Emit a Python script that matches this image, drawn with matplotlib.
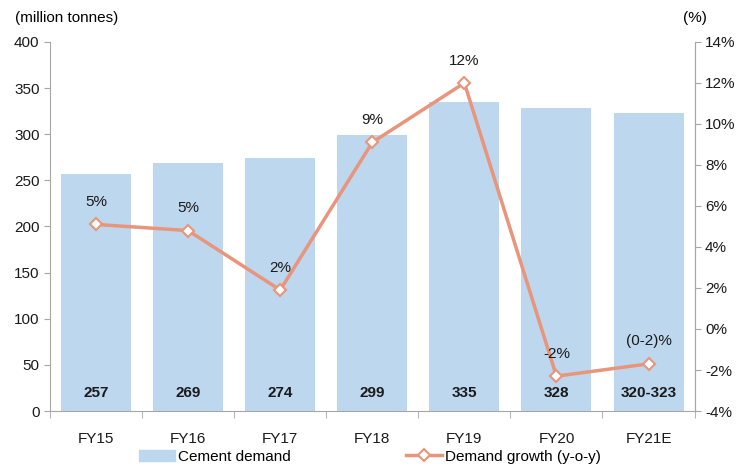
import numpy as np
import matplotlib.pyplot as plt
from matplotlib.lines import Line2D
from matplotlib.patches import Patch

plt.rcParams['font.family'] = ['Liberation Sans', 'DejaVu Sans']

years = ["FY15", "FY16", "FY17", "FY18", "FY19", "FY20", "FY21E"]
demand = [257, 269, 274, 299, 335, 328, 323]
demand_labels = ["257", "269", "274", "299", "335", "328", "320-323"]
growth = [5.1, 4.8, 1.9, 9.1, 12.0, -2.3, -1.7]
growth_labels = ["5%", "5%", "2%", "9%", "12%", "-2%", "(0-2)%"]

bar_color = "#BDD7EE"
line_color = "#E8957B"
axis_color = "#A6A6A6"
fs = 11

fig = plt.figure(figsize=(7.4, 4.66), dpi=100)
ax = fig.add_axes([0.0676, 0.118, 0.871, 0.792])
x = np.arange(len(years))

ax.bar(x, demand, width=0.76, color=bar_color, zorder=1)
for xi, lab in zip(x, demand_labels):
    ax.text(xi, 20, lab, ha="center", va="center", fontsize=fs,
            fontweight="bold", color="#1a1a1a")

ax.set_ylim(0, 400)
ax.set_yticks(range(0, 401, 50))
ax.set_xlim(-0.5, len(years) - 0.5)
ax.set_xticks(x)
ax.set_xticklabels(years)
ax.set_xticks(np.arange(-0.5, len(years), 1), minor=True)
ax.tick_params(axis="x", which="major", length=0, pad=15)
ax.tick_params(axis="x", which="minor", length=5, color=axis_color)
ax.tick_params(axis="y", length=4, color=axis_color)
ax.tick_params(labelsize=fs, labelcolor="#1a1a1a")
ax.spines["top"].set_visible(False)
for s in ["left", "bottom", "right"]:
    ax.spines[s].set_color(axis_color)

ax2 = ax.twinx()
ax2.plot(x, growth, color=line_color, lw=2.5, marker="D", ms=6,
         mfc="white", mec=line_color, mew=1.5, zorder=3)
for xi, g, lab in zip(x, growth, growth_labels):
    ax2.text(xi, g + 0.75, lab, ha="center", va="bottom", fontsize=fs,
             color="#1a1a1a")
ax2.set_ylim(-4, 14)
ax2.set_yticks(range(-4, 15, 2))
ax2.set_yticklabels([f"{v}%" for v in range(-4, 15, 2)])
ax2.tick_params(axis="y", length=4, color=axis_color, labelsize=fs,
                labelcolor="#1a1a1a")
for s in ["top", "left", "bottom"]:
    ax2.spines[s].set_visible(False)
ax2.spines["right"].set_color(axis_color)

fig.text(0.02, 0.962, "(million tonnes)", fontsize=fs, va="center")
fig.text(0.923, 0.962, "(%)", fontsize=fs, va="center")

handles = [Patch(color=bar_color),
           Line2D([], [], color=line_color, lw=2.5, marker="D", ms=6,
                  mfc="white", mec=line_color, mew=1.5)]
fig.legend(handles, ["Cement demand", "Demand growth (y-o-y)"],
           loc="center", bbox_to_anchor=(0.5, 0.02), ncol=2, frameon=False,
           fontsize=fs, columnspacing=7.6, handlelength=2.3, handletextpad=0.2)

fig.savefig("out.png")
